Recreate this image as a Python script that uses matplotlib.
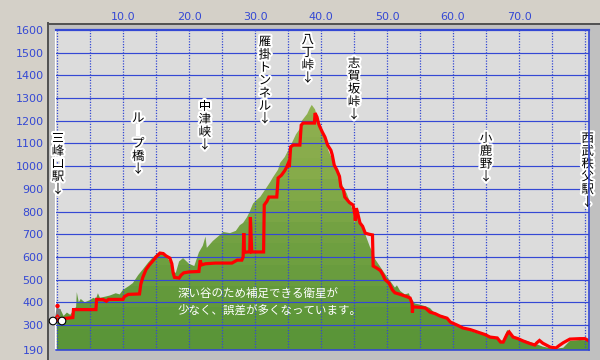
import matplotlib
matplotlib.use('Agg')
import matplotlib.pyplot as plt
import matplotlib.patheffects as pe
from matplotlib.patches import Rectangle, Circle, Polygon
from matplotlib.lines import Line2D
from matplotlib.colors import LinearSegmentedColormap
from matplotlib.transforms import IdentityTransform
import numpy as np

plt.rcParams['font.family'] = ['Noto Sans CJK JP', 'DejaVu Sans']

# terrain profile (green), distance km / elevation m
terrain_km = [0.0, 0.5, 1.0, 1.5, 2.0, 2.4, 2.9, 3.0, 3.3, 3.6, 4.2, 5.0, 5.5, 5.9, 6.2,
              6.5, 7.3, 8.0, 8.9, 9.5, 10.0, 10.8, 11.5, 12.3, 13.0, 13.8, 14.4, 15.0,
              15.6, 16.1, 16.5, 17.1, 17.6, 18.0, 18.5, 19.1, 20.0, 20.8, 21.5, 22.1,
              22.5, 22.7, 23.6, 24.4, 25.2, 26.2, 27.1, 27.7, 28.2, 28.8, 29.2, 29.7,
              30.2, 30.8, 31.5, 31.8, 32.3, 32.7, 33.5, 33.8, 34.5, 35.3, 35.8, 36.2,
              36.8, 37.1, 37.9, 38.3, 38.6, 39.1, 39.4, 39.85, 40.6, 41.1, 41.7, 42.4,
              42.9, 43.3, 43.9, 44.4, 44.85, 45.1, 45.45, 45.9, 46.7, 47.4, 47.9, 48.2,
              48.9, 49.7, 50.45, 51.2, 51.5, 52.0, 52.7, 53.3, 53.5, 54.2, 55.0, 55.8,
              56.5, 57.3, 58.0, 59.1, 59.55, 60.6, 61.5, 62.6, 63.6, 64.85, 65.6, 66.7,
              67.6, 67.9, 68.2, 68.5, 69.1, 69.85, 70.6, 71.7, 72.7, 73.6, 74.7, 75.6,
              76.7, 77.7, 79.2, 80.6]
terrain_m = [350, 370, 340, 355, 345, 360, 380, 445, 400, 415, 400, 410, 420, 415, 440,
             420, 425, 430, 440, 435, 455, 470, 485, 520, 545, 575, 595, 610,
             620, 615, 605, 580, 535, 530, 580, 595, 570, 560, 620, 650,
             690, 640, 670, 690, 710, 705, 715, 740, 750, 776, 800, 835,
             850, 865, 895, 908, 930, 950, 985, 1014, 1040, 1085, 1115, 1140,
             1165, 1200, 1230, 1255, 1270, 1250, 1216, 1172, 1120, 1070, 1030, 990,
             950, 910, 880, 840, 800, 750, 790, 760, 700, 645, 615, 590,
             560, 525, 495, 465, 475, 450, 435, 440, 425, 395, 390, 383,
             375, 350, 345, 335, 310, 295, 288, 275, 265, 258, 250, 240,
             228, 255, 278, 272, 250, 240, 235, 225, 215, 205, 198, 196,
             200, 230, 234, 232]

# GPS track (red)
gps_km = [0.0, 0.9, 1.4, 2.4, 2.5, 3.0, 5.0, 5.9, 6.0, 7.0, 7.5, 7.8, 10.0, 10.2, 10.8,
          12.5, 12.7, 13.0, 13.5, 14.0, 14.6, 15.0, 15.6, 16.1, 16.5, 17.1, 17.4, 17.6,
          17.8, 18.5, 18.8, 19.2, 20.0, 21.5, 21.6, 21.7, 21.9, 22.5, 24.0, 26.5, 27.3,
          28.0, 28.2, 28.3, 28.4, 28.8, 29.2, 29.3, 29.5, 31.3, 31.4, 31.8, 32.1, 33.3,
          33.5, 34.0, 34.5, 34.8, 35.0, 35.2, 35.4, 35.8, 36.8, 37.0, 37.3, 39.0, 39.1,
          39.4, 39.6, 39.85, 40.2, 40.6, 41.0, 41.5, 41.7, 42.0, 42.4, 42.8, 43.0, 43.4,
          43.6, 44.0, 44.3, 44.85, 45.1, 45.2, 45.35, 45.5, 45.9, 46.3, 46.7, 47.3, 47.8,
          47.9, 48.5, 49.0, 49.4, 49.7, 50.3, 50.8, 51.2, 52.0, 53.0, 53.5, 53.8, 53.85,
          53.9, 55.0, 55.8, 56.5, 57.3, 58.0, 59.1, 59.6, 60.6, 61.5, 62.6, 63.6, 64.85,
          65.6, 66.7, 67.2, 67.6, 68.1, 68.3, 68.5, 69.1, 69.85, 70.6, 71.7, 72.4, 72.7,
          73.1, 73.6, 74.7, 75.6, 76.1, 76.7, 77.7, 79.2, 80.0, 80.6]
gps_m = [325, 328, 330, 333, 368, 368, 368, 368, 413, 412, 405, 413, 413, 425, 435,
         437, 480, 510, 545, 565, 585, 600, 617, 615, 605, 595, 570, 530,
         510, 507, 520, 530, 534, 536, 560, 585, 565, 570, 573, 573, 586,
         586, 600, 705, 620, 622, 622, 776, 622, 622, 829, 845, 864, 864,
         948, 960, 980, 996, 1010, 996, 1085, 1093, 1093, 1181, 1190, 1190, 1234,
         1216, 1190, 1172, 1150, 1128, 1093, 1070, 1050, 1005, 983, 955, 910, 895,
         864, 850, 840, 829, 790, 760, 815, 800, 750, 735, 705, 700, 697,
         560, 550, 540, 520, 500, 485, 455, 442, 435, 425, 419, 395, 355,
         380, 378, 375, 357, 350, 340, 330, 313, 300, 287, 280, 270, 258,
         247, 243, 225, 225, 255, 265, 270, 247, 240, 230, 218, 212, 222,
         232, 220, 203, 199, 210, 222, 238, 240, 240, 230]

place_names = ['三峰口駅', 'ル｜プ橋', '中津峡', '雁掛トンネル', '八丁峠', '志賀坂峠', '小鹿野', '西武秩父駅']
place_km = [0.15, 12.3, 22.4, 31.5, 38.0, 45.0, 65.0, 80.4]
place_top = [1150, 1240, 1290, 1575, 1585, 1480, 1150, 1150]

note_lines = ['深い谷のため補足できる衛星が', '少なく、誤差が多くなっています。']

y_ticks = [190, 300, 400, 500, 600, 700, 800, 900, 1000, 1100, 1200, 1300, 1400, 1500, 1600]
x_ticks = [10, 20, 30, 40, 50, 60, 70]

BLUE = '#3448d4'
W, H = 600, 360


def fx(px):
    return px / W


def fy(py):
    return 1 - py / H


fig = plt.figure(figsize=(6, 3.6), dpi=100)
fig.patch.set_facecolor('#d4d0c8')

# sunken panel behind the plot
fig.add_artist(Rectangle((fx(48), fy(360)), (W - 48) / W, (360 - 23) / H,
                         transform=fig.transFigure, facecolor='#c0c0c0', edgecolor='none', zorder=-2))
fig.add_artist(Line2D([fx(48), fx(600)], [fy(23.5), fy(23.5)], transform=fig.transFigure,
                      color='#505050', lw=1.4, zorder=-1))
fig.add_artist(Line2D([fx(48.5), fx(48.5)], [fy(23), fy(360)], transform=fig.transFigure,
                      color='#505050', lw=1.4, zorder=-1))
fig.add_artist(Line2D([fx(55), fx(589)], [fy(29.5), fy(29.5)], transform=fig.transFigure,
                      color='white', lw=0.8, zorder=-1))
fig.add_artist(Line2D([fx(55.3), fx(55.3)], [fy(29), fy(350)], transform=fig.transFigure,
                      color='white', lw=0.8, zorder=-1))

ax = fig.add_axes([fx(56), 10 / H, (589 - 56) / W, 320 / H])
ax.set_facecolor('#dcdcdc')
ax.set_xlim(-0.15, 80.6)
ax.set_ylim(190, 1600)

# green terrain with banded gradient
poly = ax.fill(np.r_[terrain_km, terrain_km[-1], terrain_km[0]],
               np.r_[terrain_m, 190, 190], facecolor='none', edgecolor='none')[0]
cmap = LinearSegmentedColormap.from_list('g', ['#5a9538', '#6e9f40', '#86ab4a', '#92b252'])
bands = np.arange(15)[::-1].reshape(-1, 1)
im = ax.imshow(bands, extent=[-0.15, 80.6, 190, 1600], aspect='auto', cmap=cmap,
               vmin=0, vmax=12, interpolation='nearest', zorder=1)
im.set_clip_path(poly)

# grid
for y in y_ticks[1:-1]:
    ax.axhline(y, color=BLUE, lw=0.85, zorder=2)
for x in range(0, 81, 5):
    ax.axvline(x, color=BLUE, lw=0.9, ls=(0, (1, 1.2)), zorder=2)

ax.plot(gps_km, gps_m, color='#ff0000', lw=2.3, solid_joinstyle='miter', zorder=3)

halo = [pe.withStroke(linewidth=3, foreground='white')]
for name, k, top in zip(place_names, place_km, place_top):
    ax.text(k, top, '\n'.join(list(name) + ['↓']), ha='center', va='top', fontsize=9,
            linespacing=0.98, color='black', path_effects=halo, zorder=4, clip_on=False)

ax.text(18.3, 441, note_lines[0], ha='left', va='center', fontsize=8.3, color='white', zorder=4)
ax.text(18.3, 366, note_lines[1], ha='left', va='center', fontsize=8.3, color='white', zorder=4)

# axes styling
ax.xaxis.tick_top()
ax.set_xticks(x_ticks)
ax.set_xticklabels([f'{v:.1f}' for v in x_ticks])
ax.set_yticks(y_ticks)
ax.set_yticklabels([str(v) for v in y_ticks])
ax.tick_params(axis='x', length=0, pad=6, labelcolor=BLUE, labelsize=8)
ax.tick_params(axis='y', length=0, pad=9, labelcolor=BLUE, labelsize=8)
for lbl in ax.get_xticklabels() + ax.get_yticklabels():
    lbl.set_fontfamily('DejaVu Sans')
ax.spines['left'].set_visible(False)
ax.spines['top'].set_color(BLUE)
ax.spines['top'].set_linewidth(1.6)
ax.spines['right'].set_color(BLUE)
ax.spines['right'].set_linewidth(1.2)
ax.spines['bottom'].set_color(BLUE)
ax.spines['bottom'].set_linewidth(1.2)
for s in ax.spines.values():
    s.set_zorder(5)

# little bicycle marker at the start (pixel coordinates, origin bottom-left)
px = IdentityTransform()
bike = [
    Polygon([[55, H - 318], [56.5, H - 308], [60.5, H - 309], [60, H - 318]], closed=True,
            transform=px, facecolor='#7a7a7a', edgecolor='none', zorder=6),
    Line2D([53, 57.5, 62, 53], [H - 321, H - 315, H - 321, H - 321], transform=px,
           color='red', lw=1.2, zorder=6),
    Circle((57.5, H - 306), 2.2, transform=px, facecolor='red', edgecolor='none', zorder=6),
]
for cx in (53, 62):
    bike.append(Circle((cx, H - 321), 3.8, transform=px, facecolor='white',
                       edgecolor='black', lw=0.8, zorder=6))
for a in bike:
    fig.add_artist(a)

fig.savefig('out.png', dpi=100, facecolor=fig.get_facecolor())
